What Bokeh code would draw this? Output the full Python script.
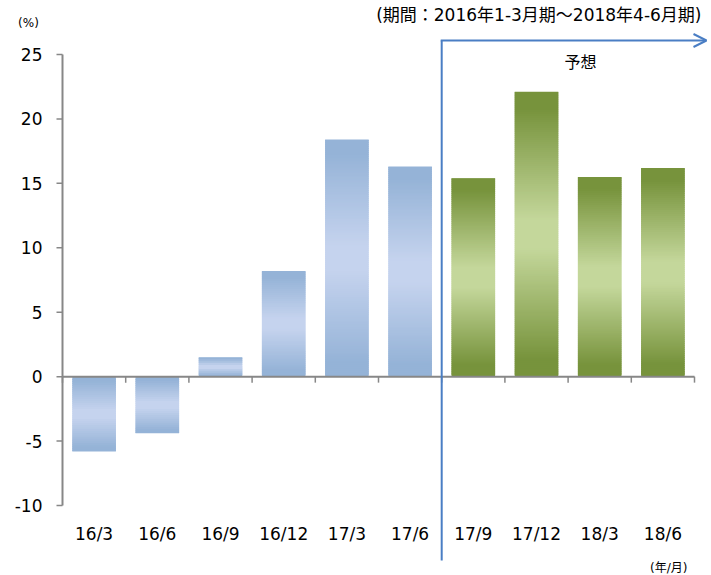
from bokeh.plotting import figure
from bokeh.models import Range1d, Label, Arrow, OpenHead
from bokeh.core.properties import value
from bokeh.embed import file_html
from bokeh.resources import INLINE

# ---- data ----
categories = ["16/3", "16/6", "16/9", "16/12", "17/3", "17/6", "17/9", "17/12", "18/3", "18/6"]
values = [-5.8, -4.4, 1.5, 8.2, 18.4, 16.3, 15.4, 22.1, 15.5, 16.2]
forecast_start = "17/9"
y_ticks = [-10, -5, 0, 5, 10, 15, 20, 25]
y_tick_labels = ["-10", "-5", "0", "5", "10", "15", "20", "25"]
title_text = "(期間：2016年1-3月期～2018年4-6月期)"
unit_y = "(%)"
unit_x = "(年/月)"
forecast_label = "予想"

W, H = 711, 575
ymin, ymax = -10, 25
n = len(categories)

# plot-area geometry (pixels) used to map the whole canvas to data space
fx0, fx1, fy0, fy1 = 62.0, 694.0, 54.0, 505.0
def dx(px):
    return (px - fx0) / (fx1 - fx0) * n
def dy(py):
    return ymax - (py - fy0) / (fy1 - fy0) * (ymax - ymin)
xpu = (fx1 - fx0) / n              # px per x unit
ypu = (fy1 - fy0) / (ymax - ymin)  # px per y unit

p = figure(width=W, height=H, output_backend="svg", toolbar_location=None,
           x_range=Range1d(dx(0), dx(W)), y_range=Range1d(dy(H), dy(0)),
           x_axis_location=None, y_axis_location=None,
           min_border=0, min_border_left=0, min_border_right=0,
           min_border_top=0, min_border_bottom=0)
p.outline_line_color = None
p.xgrid.visible = False
p.ygrid.visible = False
p.background_fill_color = "white"
p.border_fill_color = "white"

# ---- gradient bars (built from the values) ----
blue_dark, blue_light = (149, 179, 215), (197, 211, 238)
green_dark, green_light = (119, 147, 60), (196, 215, 155)
fidx = categories.index(forecast_start)
bw = 0.69
L, R, T, B, C = [], [], [], [], []
for i, v in enumerate(values):
    dark, light = (green_dark, green_light) if i >= fidx else (blue_dark, blue_light)
    N = max(6, int(round(abs(v) * ypu / 2.0)))
    h = v / N
    for k in range(N):
        t = (k + 0.5) / N
        m = 1 - abs(2 * t - 1)
        m = min(1.0, max(0.0, (m - 0.12) / 0.78))
        col = tuple(int(round(dark[j] + (light[j] - dark[j]) * m)) for j in range(3))
        lo = k * h
        hi = (k + 1) * h + (0.8 * h if k < N - 1 else 0)
        L.append(i + 0.5 - bw / 2)
        R.append(i + 0.5 + bw / 2)
        B.append(min(lo, hi))
        T.append(max(lo, hi))
        C.append("#%02x%02x%02x" % col)
p.quad(left=L, right=R, top=T, bottom=B, fill_color=C, line_color=None)

gray = "#878787"
font = "DejaVu Sans"
mixed_font = "'DejaVu Sans', 'Noto Sans CJK JP'"

# ---- y axis (spine, ticks, labels) ----
p.segment(x0=[0], y0=[ymin], x1=[0], y1=[ymax], line_color=gray, line_width=2)
p.segment(x0=[0] * len(y_ticks), y0=y_ticks, x1=[-6 / xpu] * len(y_ticks), y1=y_ticks,
          line_color=gray, line_width=1.5)
p.text(x=[-20 / xpu] * len(y_ticks), y=y_ticks, text=y_tick_labels,
       text_align="right", text_baseline="middle", text_font=value(font),
       text_font_size="17px", text_color="black")

# ---- zero line with category ticks ----
p.segment(x0=[0], y0=[0], x1=[n], y1=[0], line_color=gray, line_width=2)
p.segment(x0=list(range(n + 1)), y0=[0] * (n + 1), x1=list(range(n + 1)),
          y1=[-6 / ypu] * (n + 1), line_color=gray, line_width=1.5)

# ---- category labels ----
p.text(x=[i + 0.5 for i in range(n)], y=[ymin - 28 / ypu] * n, text=categories,
       text_align="center", text_baseline="middle", text_font=value(font),
       text_font_size="17px", text_color="black")

# ---- forecast divider arrow ----
blue = "#4a7ec4"
xline = fidx
ytop = dy(40)
p.segment(x0=[xline], y0=[dy(560)], x1=[xline], y1=[ytop], line_color=blue, line_width=2)
p.add_layout(Arrow(x_start=xline - 1 / xpu, y_start=ytop, x_end=dx(706), y_end=ytop,
                   end=OpenHead(size=13, line_color=blue, line_width=2),
                   line_color=blue, line_width=2))

# ---- texts ----
p.add_layout(Label(x=dx(701), y=dy(14), text=title_text, text_align="right",
                   text_baseline="middle", text_font=mixed_font,
                   text_font_size="17px", text_color="black"))
p.add_layout(Label(x=dx(28), y=dy(22), text=unit_y, text_align="center",
                   text_baseline="middle", text_font=font,
                   text_font_size="12px", text_color="black"))
p.add_layout(Label(x=dx(580), y=dy(60), text=forecast_label, text_align="center",
                   text_baseline="middle", text_font="Noto Sans CJK JP",
                   text_font_size="16px", text_color="black"))
p.add_layout(Label(x=dx(687), y=dy(567), text=unit_x, text_align="right",
                   text_baseline="middle", text_font=mixed_font,
                   text_font_size="12px", text_color="black"))

open("out.html", "w").write(file_html(p, INLINE))
